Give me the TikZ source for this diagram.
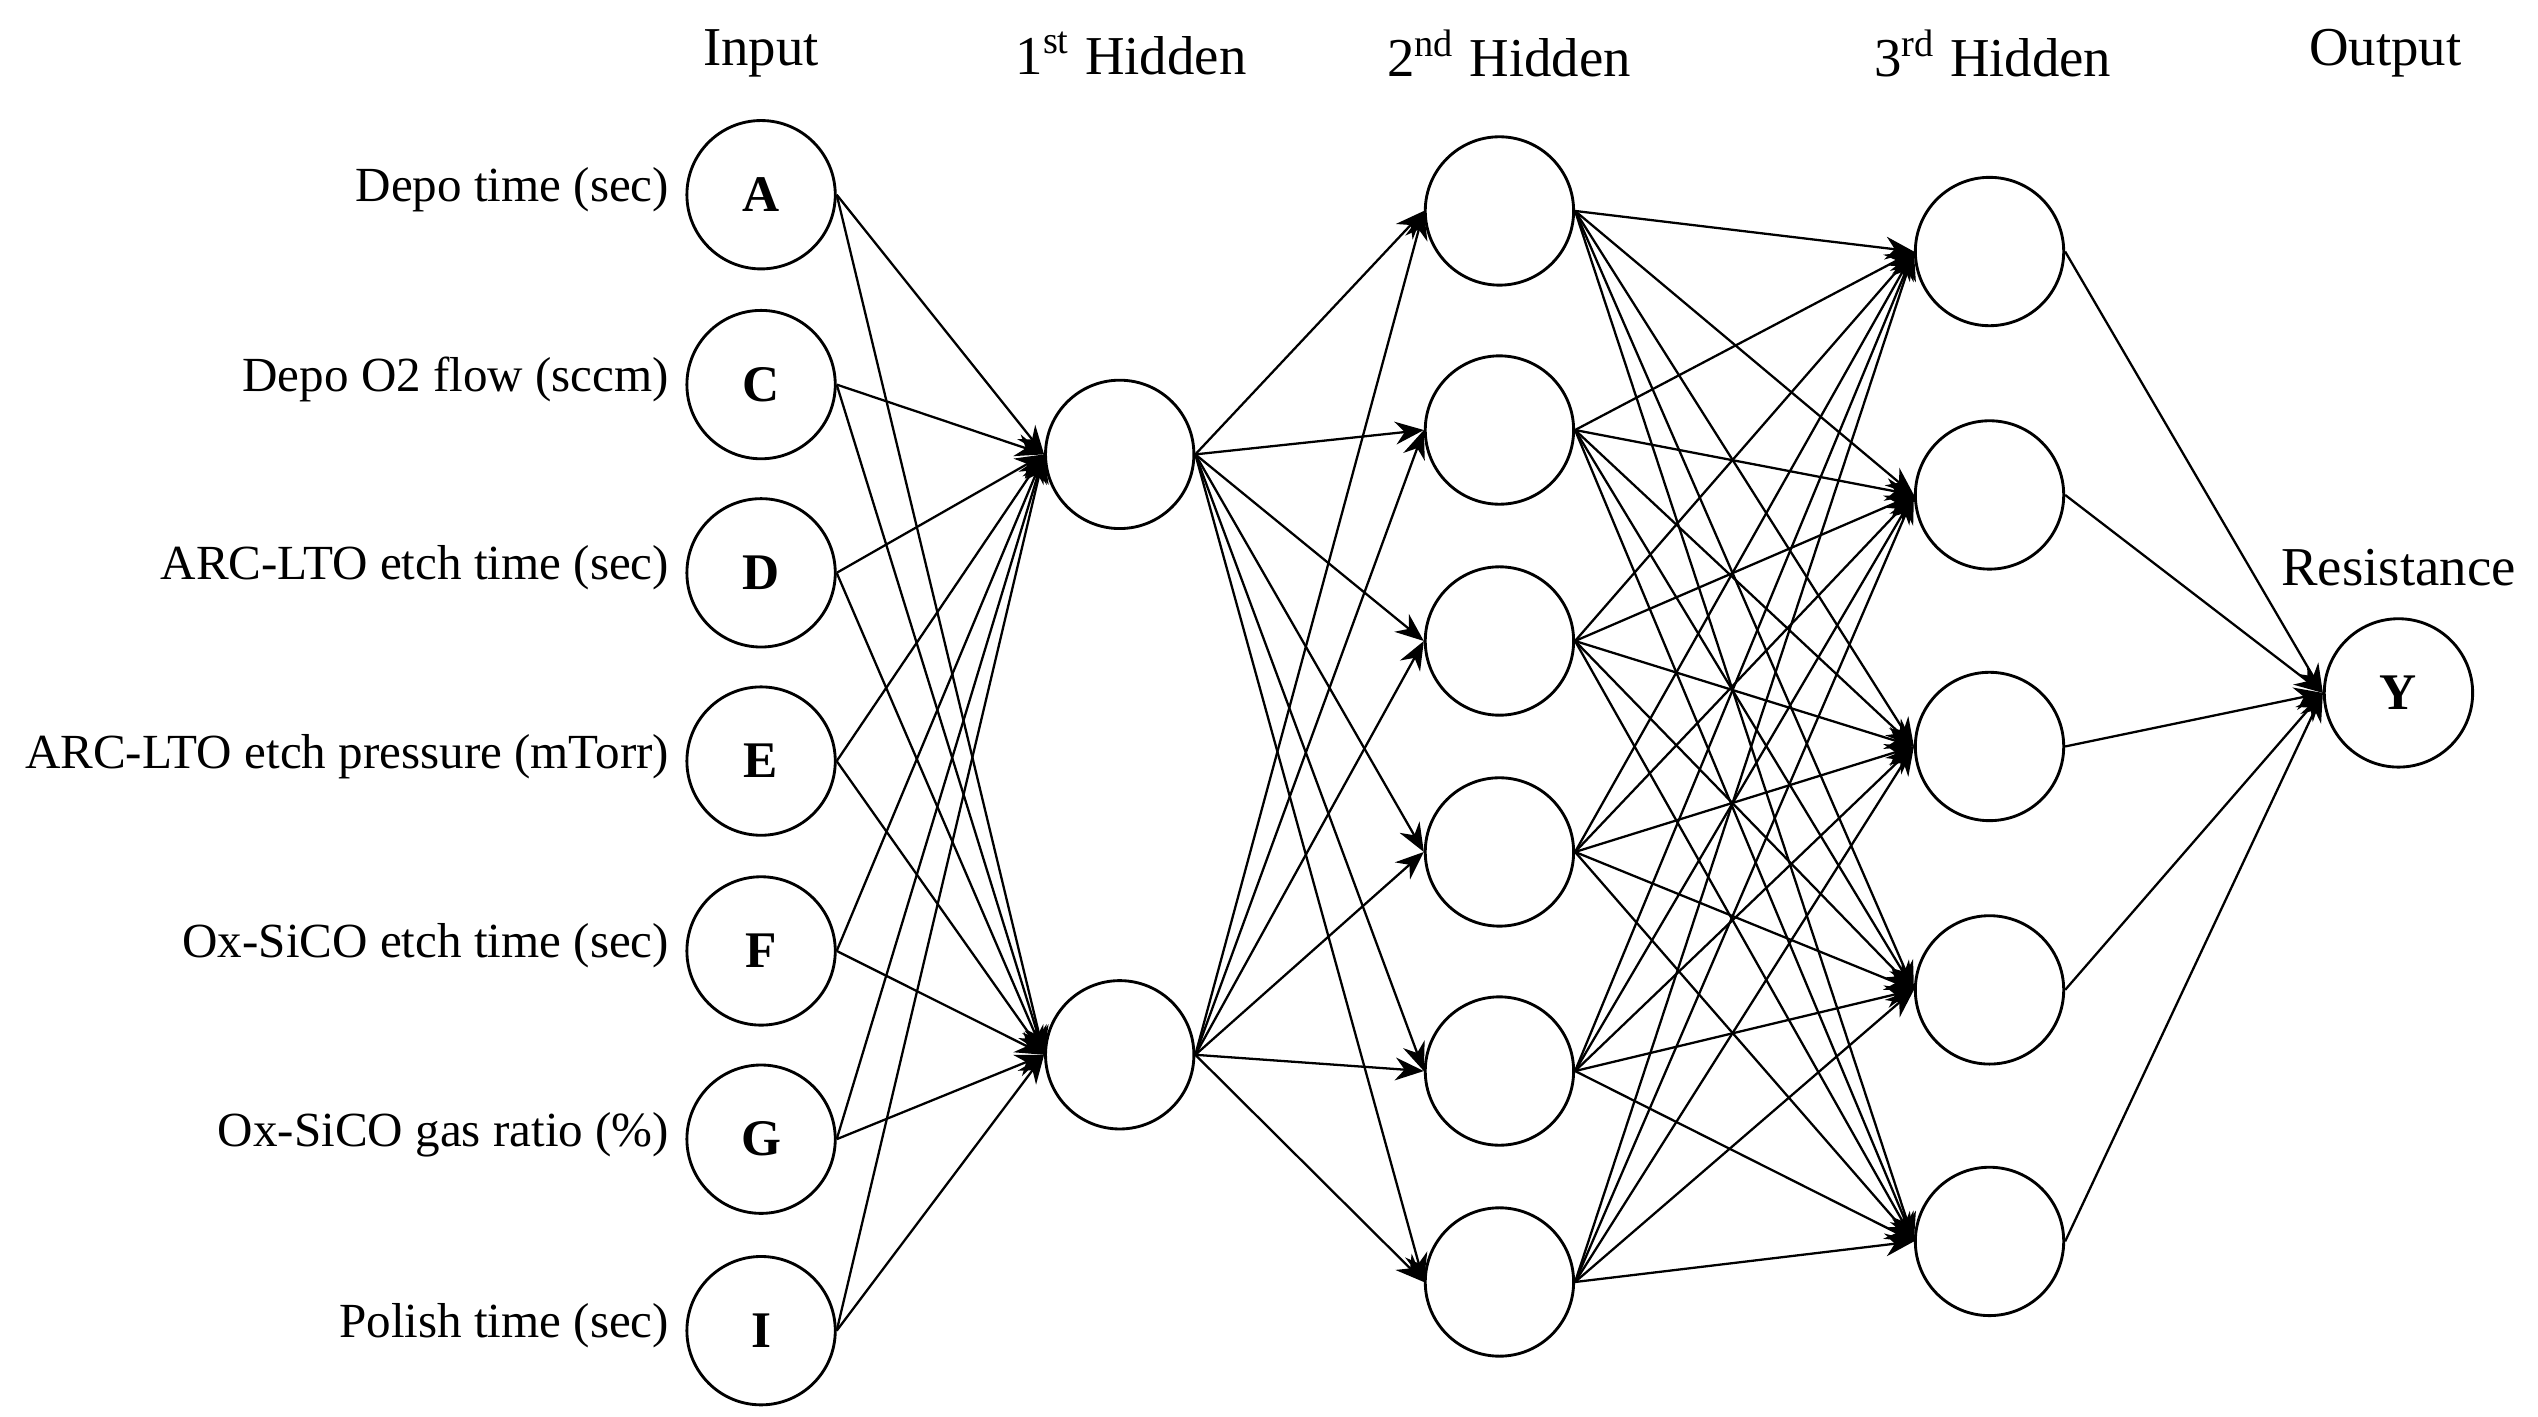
\documentclass[tikz,border=0pt]{standalone}
\usepackage{fontspec}
\setmainfont{Liberation Serif}
\usetikzlibrary{arrows.meta}
\begin{document}
\begin{tikzpicture}[x=0.01cm,y=-0.01cm,
 neu/.style={circle,draw,line width=0.5pt,minimum size=26pt,inner sep=0pt,font=\fontsize{9}{10}\selectfont\bfseries},
 lab/.style={anchor=east,font=\fontsize{8.6}{10}\selectfont,inner sep=0pt},
 hd/.style={font=\fontsize{9.6}{11}\selectfont},
 con/.style={line width=0.4pt,-{Stealth[length=5pt,width=4pt]}}]
\useasboundingbox (0,0) rectangle (1564,873);
\foreach \n/\y/\t in {A/120/Depo time (sec),C/237/Depo O2 flow (sccm),D/353/ARC-LTO etch time (sec),E/469/ARC-LTO etch pressure (mTorr),F/586/Ox-SiCO etch time (sec),G/702/Ox-SiCO gas ratio (\%),I/820/Polish time (sec)}{
 \node[neu] (\n) at (469,\y) {\n};
 \node[lab] (l\n) at (413,\y-3) {\t};}
\node[neu] (h1) at (690,280) {};
\node[neu] (h2) at (690,650) {};
\foreach \i/\y in {1/130,2/265,3/395,4/525,5/660,6/790}{\node[neu] (k\i) at (924,\y) {};}
\foreach \i/\y in {1/155,2/305,3/460,4/610,5/765}{\node[neu] (m\i) at (1226,\y) {};}
\node[neu] (Y) at (1478,427) {Y};
\node[hd] (t1) at (469,33) {Input};
\node[hd] (t2) at (697,33) {1\textsuperscript{st} Hidden};
\node[hd] (t3) at (930,33) {2\textsuperscript{nd} Hidden};
\node[hd] (t4) at (1228,33) {3\textsuperscript{rd} Hidden};
\node[hd] (t5) at (1470,33) {Output};
\node[hd] (t6) at (1478,350) {Resistance};
\foreach \n in {A,C,D,E,F,G,I}{\foreach \h in {h1,h2}{\draw[con] (\n.east) -- (\h.west);}}
\foreach \h in {h1,h2}{\foreach \i in {1,...,6}{\draw[con] (\h.east) -- (k\i.west);}}
\foreach \i in {1,...,6}{\foreach \j in {1,...,5}{\draw[con] (k\i.east) -- (m\j.west);}}
\foreach \j in {1,...,5}{\draw[con] (m\j.east) -- (Y.west);}
\end{tikzpicture}
\end{document}
